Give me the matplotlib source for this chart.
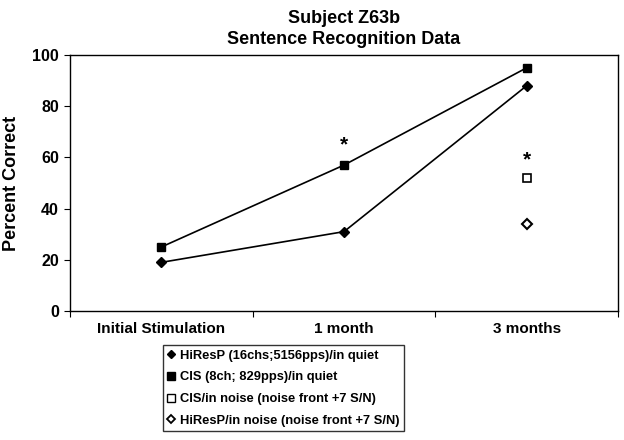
import matplotlib.pyplot as plt

plt.rcParams['font.family'] = ['Liberation Sans', 'DejaVu Sans']
plt.rcParams['font.weight'] = 'bold'

categories = ["Initial Stimulation", "1 month", "3 months"]
hires_quiet = [19, 31, 88]
cis_quiet = [25, 57, 95]
cis_noise = 52      # 3 months only
hires_noise = 34    # 3 months only
star_values = [65, 59]   # asterisks above 1 month and 3 months

labels = [
    "HiResP (16chs;5156pps)/in quiet",
    "CIS (8ch; 829pps)/in quiet",
    "CIS/in noise (noise front +7 S/N)",
    "HiResP/in noise (noise front +7 S/N)",
]

x = [i + 0.5 for i in range(len(categories))]

fig = plt.figure(figsize=(6.24, 4.4), dpi=100)
ax = fig.add_axes([70 / 624, 1 - 311 / 440, 548 / 624, 256 / 440])

ax.plot(x, hires_quiet, color='black', lw=1.2, marker='D', ms=5,
        mfc='black', mec='black')
ax.plot(x, cis_quiet, color='black', lw=1.2, marker='s', ms=6,
        mfc='black', mec='black')
ax.plot([x[2]], [cis_noise], ls='none', marker='s', ms=6,
        mfc='white', mec='black', mew=1.2)
ax.plot([x[2]], [hires_noise], ls='none', marker='D', ms=5,
        mfc='white', mec='black', mew=1.5)

for xi, v in zip(x[1:], star_values):
    ax.text(xi, v, "*", ha='center', va='center', fontsize=15, fontweight='bold')

ax.set_xlim(0, 3)
ax.set_ylim(0, 100)
ax.set_xticks([0, 1, 2, 3])
ax.set_xticklabels([])
ax.set_xticks(x, minor=True)
ax.set_xticklabels(categories, minor=True, fontsize=11, fontweight='bold')
ax.tick_params(axis='x', which='minor', length=0, pad=8)
ax.tick_params(axis='x', which='major', length=4, direction='out')
ax.set_yticks(range(0, 101, 20))
ax.tick_params(axis='y', length=4, direction='out', labelsize=11.5, pad=4)
for t in ax.get_yticklabels():
    t.set_fontweight('bold')

ax.set_ylabel("Percent Correct", fontsize=13, fontweight='bold', labelpad=9)
ax.set_title("Subject Z63b\nSentence Recognition Data", fontsize=13,
             fontweight='bold', pad=8, linespacing=1.3)

for s in ax.spines.values():
    s.set_linewidth(1.0)

hl1 = plt.Line2D([], [], ls='none', marker='D', ms=4.5, mfc='black', mec='black')
hl2 = plt.Line2D([], [], ls='none', marker='s', ms=5.5, mfc='black', mec='black')
hl3 = plt.Line2D([], [], ls='none', marker='s', ms=5.5, mfc='white', mec='black')
hl4 = plt.Line2D([], [], ls='none', marker='D', ms=4.5, mfc='white', mec='black', mew=1.3)
leg = fig.legend([hl1, hl2, hl3, hl4], labels, loc='upper left',
                 bbox_to_anchor=(163 / 624, 1 - 345 / 440), fontsize=9.3,
                 frameon=True, fancybox=False, edgecolor='black',
                 handlelength=0.6, handletextpad=0.4, labelspacing=0.75,
                 borderpad=0.35, borderaxespad=0)
leg.get_frame().set_linewidth(1.0)
for t in leg.get_texts():
    t.set_fontweight('bold')

fig.savefig("out.png", dpi=100)
